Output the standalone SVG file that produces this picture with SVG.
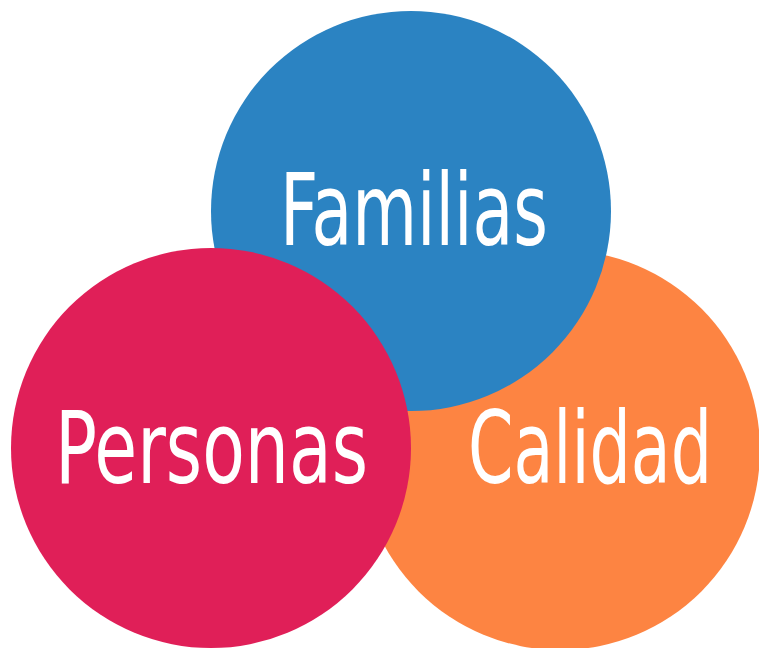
<svg xmlns="http://www.w3.org/2000/svg" width="759" height="648" viewBox="0 0 759 648">
<style>
.lbl{font-family:"DejaVu Sans Condensed","DejaVu Sans",sans-serif;font-size:100px;fill:#ffffff;}
</style>
<rect width="759" height="648" fill="#ffffff"/>
<g id="calidad">
<circle cx="560" cy="450" r="200" fill="#fd8442"/>
<text class="lbl" x="468" y="483" textLength="244" lengthAdjust="spacingAndGlyphs">Calidad</text>
</g>
<g id="familias">
<circle cx="411" cy="211" r="200" fill="#2b83c2"/>
<text class="lbl" x="280" y="245" textLength="268" lengthAdjust="spacingAndGlyphs">Familias</text>
</g>
<g id="personas">
<circle cx="211" cy="448" r="200" fill="#e01f58"/>
<text class="lbl" x="55" y="483" textLength="313" lengthAdjust="spacingAndGlyphs">Personas</text>
</g>
<g id="connectors"></g>
</svg>
